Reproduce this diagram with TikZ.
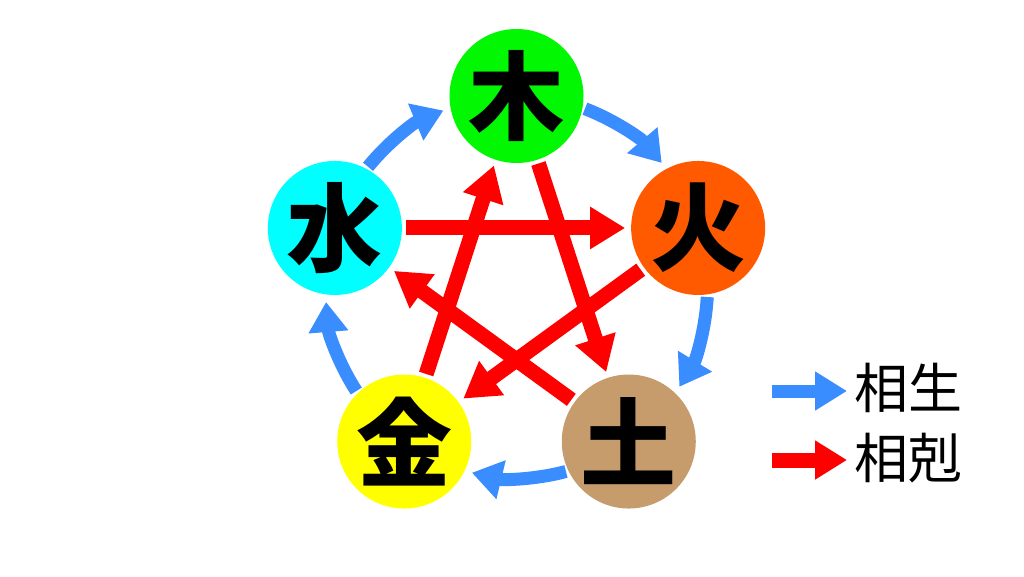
\documentclass[tikz,border=0pt]{standalone}
\usepackage{fontspec}
\newfontfamily\cjk{Noto Sans CJK JP}
\usetikzlibrary{arrows.meta,calc}
\definecolor{shengblue}{RGB}{58,141,255}
\definecolor{kered}{RGB}{255,0,0}
\definecolor{mugreen}{RGB}{2,248,2}
\definecolor{huoorange}{RGB}{255,90,0}
\definecolor{tutan}{RGB}{198,156,109}
\definecolor{jinyellow}{RGB}{255,255,0}
\definecolor{shuicyan}{RGB}{0,255,255}
\begin{document}
\begin{tikzpicture}[x=1pt,y=1pt,
  elem/.style={circle,minimum size=134pt,inner sep=0pt,outer sep=4pt,
    font=\cjk\bfseries\fontsize{96}{96}\selectfont,text=black},
  kearrow/.style={draw=kered,line width=15pt,shorten >=2pt,
    -{Triangle[length=35pt,width=40pt]}},
  shengarrow/.style={draw=shengblue,line width=13pt,
    -{Triangle[length=30pt,width=38pt]}},
  legtext/.style={anchor=west,inner sep=0pt,
    font=\cjk\fontsize{54}{54}\selectfont,text=black}]
\useasboundingbox[fill=white] (0,0) rectangle (1024,576);
\coordinate (C) at (516.5,289);
\def\R{191}
% elements
\node[elem,fill=mugreen]   (mu)   at ($(C)+(90:\R)$)  {木};
\node[elem,fill=huoorange] (huo)  at ($(C)+(18:\R)$)  {火};
\node[elem,fill=tutan]     (tu)   at ($(C)+(-54:\R)$) {土};
\node[elem,fill=jinyellow] (jin)  at ($(C)+(234:\R)$) {金};
\node[elem,fill=shuicyan]  (shui) at ($(C)+(162:\R)$) {水};
% generating cycle (arcs)
\draw[shengarrow] ($(C)+(141:\R)$) arc[start angle=141,end angle=112.5,radius=\R];
\draw[shengarrow] ($(C)+(69:\R)$) arc[start angle=69,end angle=40.5,radius=\R];
\draw[shengarrow] ($(C)+(-3:\R)$) arc[start angle=-3,end angle=-31.5,radius=\R];
\draw[shengarrow] ($(C)+(-75:\R)$) arc[start angle=-75,end angle=-103.5,radius=\R];
\draw[shengarrow] ($(C)+(213:\R)$) arc[start angle=213,end angle=184.5,radius=\R];
% overcoming cycle (star)
\draw[kearrow] (mu) -- (tu);
\draw[kearrow] (tu) -- (shui);
\draw[kearrow] (shui) -- (huo);
\draw[kearrow] (huo) -- (jin);
\draw[kearrow] (jin) -- (mu);
% legend
\coordinate (la1) at (772,185);
\coordinate (lb1) at (847,185);
\coordinate (la2) at (772,116);
\coordinate (lb2) at (847,116);
\draw[draw=shengblue,line width=13pt,-{Triangle[length=32pt,width=37pt]}] (la1) -- (lb1);
\draw[draw=kered,line width=15pt,-{Triangle[length=32pt,width=37pt]}] (la2) -- (lb2);
\node[legtext] (lsheng) at (854,188) {相生};
\node[legtext] (lke) at (854,118) {相剋};
\end{tikzpicture}
\end{document}
